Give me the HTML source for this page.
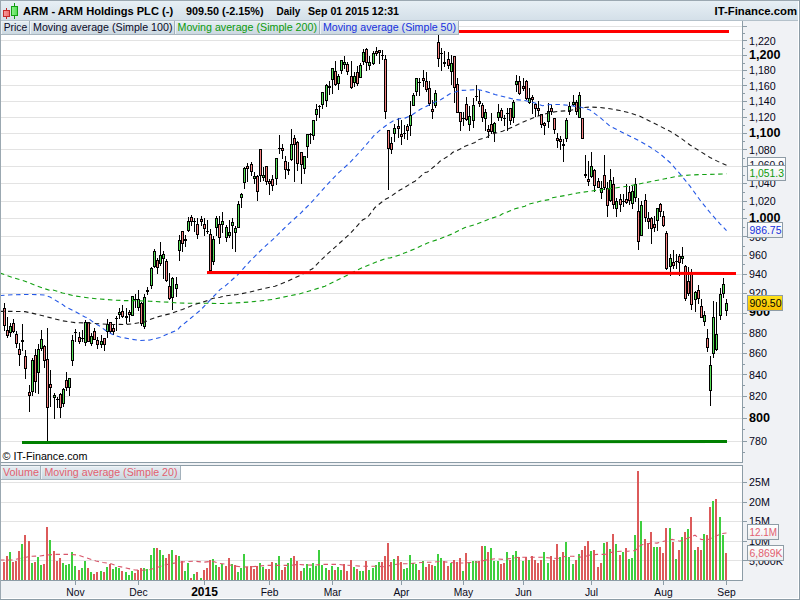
<!DOCTYPE html>
<html><head><meta charset="utf-8"><title>ARM - ARM Holdings PLC</title>
<style>
html,body{margin:0;padding:0;background:#f0f2f5;}
body{width:800px;height:600px;overflow:hidden;position:relative;font-family:"Liberation Sans", sans-serif;}
svg{position:absolute;left:0;top:0;display:block;}
text{font-family:"Liberation Sans", sans-serif;font-size:11px;}
.b{font-weight:bold;}
</style></head><body>
<svg width="800" height="600" viewBox="0 0 800 600">
<defs>
<linearGradient id="hd" x1="0" y1="0" x2="0" y2="1"><stop offset="0" stop-color="#e8f0f5"/><stop offset="1" stop-color="#d3dfe8"/></linearGradient>
<linearGradient id="tb" x1="0" y1="0" x2="0" y2="1"><stop offset="0" stop-color="#e6eef3"/><stop offset="1" stop-color="#c9d6df"/></linearGradient>
<linearGradient id="yl" x1="0" y1="0" x2="0" y2="1"><stop offset="0" stop-color="#ffe31a"/><stop offset="1" stop-color="#f6bd00"/></linearGradient>
<linearGradient id="wb" x1="0" y1="0" x2="0" y2="1"><stop offset="0" stop-color="#ffffff"/><stop offset="1" stop-color="#eceef0"/></linearGradient>
<linearGradient id="rc" x1="0" y1="0" x2="1" y2="0"><stop offset="0" stop-color="#f79a9a"/><stop offset="1" stop-color="#ee7070"/></linearGradient>
<linearGradient id="gc" x1="0" y1="0" x2="1" y2="0"><stop offset="0" stop-color="#8df08d"/><stop offset="1" stop-color="#55dd55"/></linearGradient>
<clipPath id="cp"><rect x="1" y="21" width="741" height="441"/></clipPath>
<clipPath id="cv"><rect x="1" y="466" width="741" height="114"/></clipPath>
</defs>

<rect x="0" y="0" width="800" height="600" fill="#f0f2f5"/>
<rect x="0" y="0" width="800" height="21" fill="url(#hd)"/>
<rect x="0" y="20" width="800" height="1" fill="#b4c1ca"/>
<rect x="1" y="21" width="741" height="441" fill="#fff"/>
<rect x="1" y="466" width="741" height="114" fill="#fff"/>
<g fill="#e3e3e3">
<rect x="1" y="441" width="741" height="1"/>
<rect x="1" y="418" width="741" height="1"/>
<rect x="1" y="396" width="741" height="1"/>
<rect x="1" y="374" width="741" height="1"/>
<rect x="1" y="353" width="741" height="1"/>
<rect x="1" y="333" width="741" height="1"/>
<rect x="1" y="313" width="741" height="1"/>
<rect x="1" y="293" width="741" height="1"/>
<rect x="1" y="274" width="741" height="1"/>
<rect x="1" y="255" width="741" height="1"/>
<rect x="1" y="236" width="741" height="1"/>
<rect x="1" y="218" width="741" height="1"/>
<rect x="1" y="201" width="741" height="1"/>
<rect x="1" y="183" width="741" height="1"/>
<rect x="1" y="166" width="741" height="1"/>
<rect x="1" y="149" width="741" height="1"/>
<rect x="1" y="133" width="741" height="1"/>
<rect x="1" y="117" width="741" height="1"/>
<rect x="1" y="101" width="741" height="1"/>
<rect x="1" y="85" width="741" height="1"/>
<rect x="1" y="70" width="741" height="1"/>
<rect x="1" y="55" width="741" height="1"/>
<rect x="1" y="40" width="741" height="1"/>
<rect x="1" y="26" width="741" height="1"/>
<rect x="1" y="560" width="741" height="1"/>
<rect x="1" y="541" width="741" height="1"/>
<rect x="1" y="521" width="741" height="1"/>
<rect x="1" y="502" width="741" height="1"/>
<rect x="1" y="482" width="741" height="1"/>
</g>
<g clip-path="url(#cp)" shape-rendering="crispEdges">
<g fill="#000"><rect x="4" y="303" width="1" height="28"/><rect x="7" y="317" width="1" height="21"/><rect x="10" y="323" width="1" height="14"/><rect x="13" y="319" width="1" height="14"/><rect x="16" y="331" width="1" height="17"/><rect x="19" y="343" width="1" height="23"/><rect x="22" y="324" width="1" height="27"/><rect x="25" y="350" width="1" height="29"/><rect x="29" y="385" width="1" height="27"/><rect x="32" y="358" width="1" height="38"/><rect x="35" y="349" width="1" height="44"/><rect x="38" y="344" width="1" height="50"/><rect x="41" y="330" width="1" height="21"/><rect x="44" y="345" width="1" height="23"/><rect x="47" y="328" width="1" height="114"/><rect x="50" y="370" width="1" height="37"/><rect x="54" y="393" width="1" height="26"/><rect x="57" y="397" width="1" height="11"/><rect x="60" y="393" width="1" height="25"/><rect x="63" y="388" width="1" height="19"/><rect x="66" y="372" width="1" height="19"/><rect x="69" y="378" width="1" height="18"/><rect x="72" y="335" width="1" height="31"/><rect x="75" y="329" width="1" height="13"/><rect x="79" y="332" width="1" height="12"/><rect x="82" y="330" width="1" height="12"/><rect x="85" y="320" width="1" height="26"/><rect x="88" y="322" width="1" height="20"/><rect x="91" y="333" width="1" height="13"/><rect x="94" y="328" width="1" height="12"/><rect x="97" y="337" width="1" height="12"/><rect x="101" y="335" width="1" height="13"/><rect x="104" y="338" width="1" height="13"/><rect x="107" y="319" width="1" height="19"/><rect x="110" y="322" width="1" height="12"/><rect x="113" y="324" width="1" height="11"/><rect x="116" y="316" width="1" height="15"/><rect x="119" y="308" width="1" height="11"/><rect x="122" y="305" width="1" height="13"/><rect x="126" y="308" width="1" height="16"/><rect x="129" y="310" width="1" height="12"/><rect x="132" y="296" width="1" height="20"/><rect x="135" y="294" width="1" height="14"/><rect x="138" y="290" width="1" height="21"/><rect x="141" y="302" width="1" height="24"/><rect x="144" y="294" width="1" height="35"/><rect x="147" y="287" width="1" height="8"/><rect x="151" y="267" width="1" height="22"/><rect x="154" y="249" width="1" height="19"/><rect x="157" y="258" width="1" height="16"/><rect x="160" y="242" width="1" height="24"/><rect x="163" y="251" width="1" height="28"/><rect x="166" y="259" width="1" height="23"/><rect x="169" y="273" width="1" height="27"/><rect x="172" y="277" width="1" height="33"/><rect x="176" y="277" width="1" height="20"/><rect x="179" y="235" width="1" height="26"/><rect x="182" y="231" width="1" height="21"/><rect x="185" y="235" width="1" height="12"/><rect x="188" y="217" width="1" height="15"/><rect x="191" y="215" width="1" height="11"/><rect x="194" y="218" width="1" height="14"/><rect x="197" y="218" width="1" height="21"/><rect x="201" y="216" width="1" height="10"/><rect x="204" y="218" width="1" height="18"/><rect x="207" y="220" width="1" height="14"/><rect x="210" y="229" width="1" height="45"/><rect x="213" y="236" width="1" height="29"/><rect x="216" y="216" width="1" height="20"/><rect x="219" y="216" width="1" height="28"/><rect x="222" y="212" width="1" height="21"/><rect x="226" y="225" width="1" height="17"/><rect x="229" y="220" width="1" height="18"/><rect x="232" y="218" width="1" height="31"/><rect x="235" y="226" width="1" height="26"/><rect x="238" y="201" width="1" height="27"/><rect x="241" y="193" width="1" height="15"/><rect x="244" y="167" width="1" height="22"/><rect x="247" y="163" width="1" height="19"/><rect x="251" y="162" width="1" height="14"/><rect x="254" y="172" width="1" height="12"/><rect x="257" y="175" width="1" height="26"/><rect x="260" y="149" width="1" height="33"/><rect x="263" y="167" width="1" height="14"/><rect x="266" y="166" width="1" height="19"/><rect x="269" y="179" width="1" height="16"/><rect x="272" y="175" width="1" height="16"/><rect x="276" y="158" width="1" height="27"/><rect x="279" y="135" width="1" height="19"/><rect x="282" y="144" width="1" height="15"/><rect x="285" y="156" width="1" height="23"/><rect x="288" y="162" width="1" height="13"/><rect x="291" y="129" width="1" height="32"/><rect x="294" y="135" width="1" height="47"/><rect x="297" y="141" width="1" height="30"/><rect x="301" y="152" width="1" height="32"/><rect x="304" y="156" width="1" height="18"/><rect x="307" y="134" width="1" height="24"/><rect x="310" y="133" width="1" height="11"/><rect x="313" y="120" width="1" height="20"/><rect x="316" y="104" width="1" height="17"/><rect x="319" y="105" width="1" height="13"/><rect x="322" y="92" width="1" height="17"/><rect x="326" y="84" width="1" height="23"/><rect x="329" y="81" width="1" height="14"/><rect x="332" y="68" width="1" height="26"/><rect x="335" y="61" width="1" height="25"/><rect x="338" y="74" width="1" height="16"/><rect x="341" y="60" width="1" height="14"/><rect x="344" y="56" width="1" height="13"/><rect x="347" y="62" width="1" height="13"/><rect x="351" y="61" width="1" height="28"/><rect x="354" y="72" width="1" height="15"/><rect x="357" y="66" width="1" height="20"/><rect x="360" y="63" width="1" height="15"/><rect x="363" y="49" width="1" height="16"/><rect x="366" y="48" width="1" height="23"/><rect x="369" y="56" width="1" height="14"/><rect x="373" y="51" width="1" height="14"/><rect x="376" y="47" width="1" height="9"/><rect x="379" y="50" width="1" height="14"/><rect x="382" y="50" width="1" height="10"/><rect x="385" y="55" width="1" height="64"/><rect x="388" y="130" width="1" height="60"/><rect x="391" y="137" width="1" height="17"/><rect x="394" y="124" width="1" height="18"/><rect x="398" y="118" width="1" height="20"/><rect x="401" y="120" width="1" height="25"/><rect x="404" y="125" width="1" height="14"/><rect x="407" y="124" width="1" height="16"/><rect x="410" y="101" width="1" height="35"/><rect x="413" y="93" width="1" height="13"/><rect x="416" y="78" width="1" height="18"/><rect x="419" y="78" width="1" height="18"/><rect x="423" y="70" width="1" height="17"/><rect x="426" y="72" width="1" height="20"/><rect x="429" y="81" width="1" height="25"/><rect x="432" y="100" width="1" height="19"/><rect x="435" y="90" width="1" height="18"/><rect x="438" y="35" width="1" height="32"/><rect x="441" y="48" width="1" height="23"/><rect x="444" y="51" width="1" height="16"/><rect x="448" y="52" width="1" height="17"/><rect x="451" y="55" width="1" height="30"/><rect x="454" y="56" width="1" height="47"/><rect x="457" y="78" width="1" height="35"/><rect x="460" y="112" width="1" height="19"/><rect x="463" y="112" width="1" height="14"/><rect x="466" y="97" width="1" height="24"/><rect x="469" y="106" width="1" height="25"/><rect x="473" y="98" width="1" height="30"/><rect x="476" y="85" width="1" height="16"/><rect x="479" y="90" width="1" height="17"/><rect x="482" y="103" width="1" height="19"/><rect x="485" y="109" width="1" height="22"/><rect x="488" y="125" width="1" height="13"/><rect x="491" y="113" width="1" height="21"/><rect x="494" y="122" width="1" height="20"/><rect x="498" y="104" width="1" height="17"/><rect x="501" y="108" width="1" height="13"/><rect x="504" y="115" width="1" height="11"/><rect x="507" y="108" width="1" height="23"/><rect x="510" y="108" width="1" height="17"/><rect x="513" y="100" width="1" height="23"/><rect x="516" y="75" width="1" height="17"/><rect x="519" y="76" width="1" height="19"/><rect x="523" y="78" width="1" height="13"/><rect x="526" y="80" width="1" height="20"/><rect x="529" y="88" width="1" height="16"/><rect x="532" y="95" width="1" height="19"/><rect x="535" y="103" width="1" height="14"/><rect x="538" y="101" width="1" height="15"/><rect x="541" y="114" width="1" height="14"/><rect x="544" y="122" width="1" height="13"/><rect x="548" y="103" width="1" height="25"/><rect x="551" y="105" width="1" height="10"/><rect x="554" y="118" width="1" height="16"/><rect x="557" y="133" width="1" height="15"/><rect x="560" y="136" width="1" height="14"/><rect x="563" y="139" width="1" height="23"/><rect x="566" y="118" width="1" height="24"/><rect x="569" y="102" width="1" height="13"/><rect x="573" y="95" width="1" height="11"/><rect x="576" y="100" width="1" height="15"/><rect x="579" y="92" width="1" height="26"/><rect x="582" y="118" width="1" height="21"/><rect x="585" y="155" width="1" height="23"/><rect x="588" y="161" width="1" height="25"/><rect x="591" y="152" width="1" height="26"/><rect x="594" y="169" width="1" height="23"/><rect x="598" y="178" width="1" height="10"/><rect x="601" y="181" width="1" height="18"/><rect x="604" y="155" width="1" height="35"/><rect x="607" y="182" width="1" height="35"/><rect x="610" y="169" width="1" height="33"/><rect x="613" y="177" width="1" height="32"/><rect x="616" y="198" width="1" height="19"/><rect x="620" y="194" width="1" height="18"/><rect x="623" y="194" width="1" height="13"/><rect x="626" y="184" width="1" height="20"/><rect x="629" y="186" width="1" height="19"/><rect x="632" y="186" width="1" height="23"/><rect x="635" y="178" width="1" height="24"/><rect x="638" y="198" width="1" height="52"/><rect x="641" y="201" width="1" height="35"/><rect x="645" y="194" width="1" height="28"/><rect x="648" y="212" width="1" height="17"/><rect x="651" y="217" width="1" height="27"/><rect x="654" y="216" width="1" height="16"/><rect x="657" y="208" width="1" height="23"/><rect x="660" y="203" width="1" height="14"/><rect x="663" y="211" width="1" height="16"/><rect x="666" y="231" width="1" height="39"/><rect x="670" y="254" width="1" height="22"/><rect x="673" y="250" width="1" height="19"/><rect x="676" y="254" width="1" height="15"/><rect x="679" y="254" width="1" height="22"/><rect x="682" y="247" width="1" height="17"/><rect x="685" y="265" width="1" height="36"/><rect x="688" y="267" width="1" height="29"/><rect x="691" y="269" width="1" height="41"/><rect x="695" y="291" width="1" height="21"/><rect x="698" y="285" width="1" height="19"/><rect x="701" y="299" width="1" height="19"/><rect x="704" y="311" width="1" height="15"/><rect x="707" y="329" width="1" height="23"/><rect x="710" y="356" width="1" height="50"/><rect x="713" y="301" width="1" height="57"/><rect x="716" y="302" width="1" height="49"/><rect x="720" y="288" width="1" height="32"/><rect x="723" y="278" width="1" height="20"/><rect x="726" y="299" width="1" height="17"/></g>
<rect x="3" y="308" width="3" height="18" fill="#000"/><rect x="4" y="309" width="1" height="16" fill="#f58080"/><rect x="6" y="330" width="3" height="6" fill="#000"/><rect x="7" y="331" width="1" height="4" fill="#f58080"/><rect x="9" y="326" width="3" height="7" fill="#000"/><rect x="10" y="327" width="1" height="5" fill="#58e058"/><rect x="12" y="323" width="3" height="9" fill="#000"/><rect x="13" y="324" width="1" height="7" fill="#f58080"/><rect x="15" y="334" width="3" height="10" fill="#000"/><rect x="16" y="335" width="1" height="8" fill="#f58080"/><rect x="18" y="349" width="3" height="6" fill="#000"/><rect x="19" y="350" width="1" height="4" fill="#f58080"/><rect x="21" y="340" width="3" height="2" fill="#000"/><rect x="24" y="356" width="3" height="13" fill="#000"/><rect x="25" y="357" width="1" height="11" fill="#f58080"/><rect x="28" y="392" width="3" height="4" fill="#000"/><rect x="29" y="393" width="1" height="2" fill="#f58080"/><rect x="31" y="360" width="3" height="32" fill="#000"/><rect x="32" y="361" width="1" height="30" fill="#58e058"/><rect x="34" y="355" width="3" height="27" fill="#000"/><rect x="35" y="356" width="1" height="25" fill="#f58080"/><rect x="37" y="349" width="3" height="24" fill="#000"/><rect x="38" y="350" width="1" height="22" fill="#58e058"/><rect x="40" y="339" width="3" height="10" fill="#000"/><rect x="41" y="340" width="1" height="8" fill="#58e058"/><rect x="43" y="346" width="3" height="15" fill="#000"/><rect x="44" y="347" width="1" height="13" fill="#f58080"/><rect x="46" y="359" width="3" height="49" fill="#000"/><rect x="47" y="360" width="1" height="47" fill="#f58080"/><rect x="49" y="384" width="3" height="4" fill="#000"/><rect x="50" y="385" width="1" height="2" fill="#f58080"/><rect x="53" y="395" width="3" height="3" fill="#000"/><rect x="54" y="396" width="1" height="1" fill="#58e058"/><rect x="56" y="399" width="3" height="1" fill="#000"/><rect x="59" y="394" width="3" height="14" fill="#000"/><rect x="60" y="395" width="1" height="12" fill="#f58080"/><rect x="62" y="389" width="3" height="15" fill="#000"/><rect x="63" y="390" width="1" height="13" fill="#58e058"/><rect x="65" y="380" width="3" height="8" fill="#000"/><rect x="66" y="381" width="1" height="6" fill="#f58080"/><rect x="68" y="378" width="3" height="10" fill="#000"/><rect x="69" y="379" width="1" height="8" fill="#58e058"/><rect x="71" y="340" width="3" height="21" fill="#000"/><rect x="72" y="341" width="1" height="19" fill="#58e058"/><rect x="74" y="332" width="3" height="1" fill="#000"/><rect x="78" y="337" width="3" height="5" fill="#000"/><rect x="79" y="338" width="1" height="3" fill="#f58080"/><rect x="81" y="338" width="3" height="1" fill="#000"/><rect x="84" y="322" width="3" height="21" fill="#000"/><rect x="85" y="323" width="1" height="19" fill="#58e058"/><rect x="87" y="322" width="3" height="20" fill="#000"/><rect x="88" y="323" width="1" height="18" fill="#f58080"/><rect x="90" y="336" width="3" height="8" fill="#000"/><rect x="91" y="337" width="1" height="6" fill="#58e058"/><rect x="93" y="331" width="3" height="9" fill="#000"/><rect x="94" y="332" width="1" height="7" fill="#f58080"/><rect x="96" y="340" width="3" height="5" fill="#000"/><rect x="97" y="341" width="1" height="3" fill="#f58080"/><rect x="100" y="341" width="3" height="4" fill="#000"/><rect x="101" y="342" width="1" height="2" fill="#58e058"/><rect x="103" y="338" width="3" height="7" fill="#000"/><rect x="104" y="339" width="1" height="5" fill="#f58080"/><rect x="106" y="324" width="3" height="8" fill="#000"/><rect x="107" y="325" width="1" height="6" fill="#58e058"/><rect x="109" y="322" width="3" height="10" fill="#000"/><rect x="110" y="323" width="1" height="8" fill="#f58080"/><rect x="112" y="328" width="3" height="4" fill="#000"/><rect x="113" y="329" width="1" height="2" fill="#f58080"/><rect x="115" y="318" width="3" height="1" fill="#000"/><rect x="118" y="312" width="3" height="3" fill="#000"/><rect x="119" y="313" width="1" height="1" fill="#58e058"/><rect x="121" y="311" width="3" height="6" fill="#000"/><rect x="122" y="312" width="1" height="4" fill="#f58080"/><rect x="125" y="316" width="3" height="2" fill="#000"/><rect x="128" y="312" width="3" height="3" fill="#000"/><rect x="129" y="313" width="1" height="1" fill="#f58080"/><rect x="131" y="296" width="3" height="20" fill="#000"/><rect x="132" y="297" width="1" height="18" fill="#58e058"/><rect x="134" y="299" width="3" height="1" fill="#000"/><rect x="137" y="299" width="3" height="9" fill="#000"/><rect x="138" y="300" width="1" height="7" fill="#58e058"/><rect x="140" y="303" width="3" height="21" fill="#000"/><rect x="141" y="304" width="1" height="19" fill="#f58080"/><rect x="143" y="297" width="3" height="30" fill="#000"/><rect x="144" y="298" width="1" height="28" fill="#58e058"/><rect x="146" y="290" width="3" height="2" fill="#000"/><rect x="150" y="268" width="3" height="18" fill="#000"/><rect x="151" y="269" width="1" height="16" fill="#58e058"/><rect x="153" y="251" width="3" height="16" fill="#000"/><rect x="154" y="252" width="1" height="14" fill="#58e058"/><rect x="156" y="260" width="3" height="8" fill="#000"/><rect x="157" y="261" width="1" height="6" fill="#f58080"/><rect x="159" y="255" width="3" height="9" fill="#000"/><rect x="160" y="256" width="1" height="7" fill="#58e058"/><rect x="162" y="254" width="3" height="5" fill="#000"/><rect x="163" y="255" width="1" height="3" fill="#58e058"/><rect x="165" y="261" width="3" height="20" fill="#000"/><rect x="166" y="262" width="1" height="18" fill="#f58080"/><rect x="168" y="286" width="3" height="13" fill="#000"/><rect x="169" y="287" width="1" height="11" fill="#f58080"/><rect x="171" y="278" width="3" height="20" fill="#000"/><rect x="172" y="279" width="1" height="18" fill="#58e058"/><rect x="175" y="284" width="3" height="5" fill="#000"/><rect x="176" y="285" width="1" height="3" fill="#58e058"/><rect x="178" y="240" width="3" height="11" fill="#000"/><rect x="179" y="241" width="1" height="9" fill="#58e058"/><rect x="181" y="231" width="3" height="13" fill="#000"/><rect x="182" y="232" width="1" height="11" fill="#f58080"/><rect x="184" y="239" width="3" height="2" fill="#000"/><rect x="187" y="221" width="3" height="10" fill="#000"/><rect x="188" y="222" width="1" height="8" fill="#58e058"/><rect x="190" y="217" width="3" height="5" fill="#000"/><rect x="191" y="218" width="1" height="3" fill="#f58080"/><rect x="193" y="221" width="3" height="1" fill="#000"/><rect x="196" y="224" width="3" height="11" fill="#000"/><rect x="197" y="225" width="1" height="9" fill="#f58080"/><rect x="200" y="219" width="3" height="3" fill="#000"/><rect x="201" y="220" width="1" height="1" fill="#f58080"/><rect x="203" y="224" width="3" height="5" fill="#000"/><rect x="204" y="225" width="1" height="3" fill="#f58080"/><rect x="206" y="231" width="3" height="1" fill="#000"/><rect x="209" y="234" width="3" height="37" fill="#000"/><rect x="210" y="235" width="1" height="35" fill="#f58080"/><rect x="212" y="239" width="3" height="23" fill="#000"/><rect x="213" y="240" width="1" height="21" fill="#58e058"/><rect x="215" y="218" width="3" height="10" fill="#000"/><rect x="216" y="219" width="1" height="8" fill="#58e058"/><rect x="218" y="224" width="3" height="14" fill="#000"/><rect x="219" y="225" width="1" height="12" fill="#f58080"/><rect x="221" y="221" width="3" height="4" fill="#000"/><rect x="222" y="222" width="1" height="2" fill="#58e058"/><rect x="225" y="227" width="3" height="11" fill="#000"/><rect x="226" y="228" width="1" height="9" fill="#58e058"/><rect x="228" y="232" width="3" height="4" fill="#000"/><rect x="229" y="233" width="1" height="2" fill="#58e058"/><rect x="231" y="222" width="3" height="4" fill="#000"/><rect x="232" y="223" width="1" height="2" fill="#58e058"/><rect x="234" y="228" width="3" height="5" fill="#000"/><rect x="235" y="229" width="1" height="3" fill="#58e058"/><rect x="237" y="204" width="3" height="24" fill="#000"/><rect x="238" y="205" width="1" height="22" fill="#58e058"/><rect x="240" y="194" width="3" height="4" fill="#000"/><rect x="241" y="195" width="1" height="2" fill="#58e058"/><rect x="243" y="168" width="3" height="15" fill="#000"/><rect x="244" y="169" width="1" height="13" fill="#58e058"/><rect x="246" y="166" width="3" height="3" fill="#000"/><rect x="247" y="167" width="1" height="1" fill="#f58080"/><rect x="250" y="164" width="3" height="8" fill="#000"/><rect x="251" y="165" width="1" height="6" fill="#f58080"/><rect x="253" y="176" width="3" height="3" fill="#000"/><rect x="254" y="177" width="1" height="1" fill="#58e058"/><rect x="256" y="176" width="3" height="16" fill="#000"/><rect x="257" y="177" width="1" height="14" fill="#f58080"/><rect x="259" y="149" width="3" height="27" fill="#000"/><rect x="260" y="150" width="1" height="25" fill="#f58080"/><rect x="262" y="175" width="3" height="3" fill="#000"/><rect x="263" y="176" width="1" height="1" fill="#58e058"/><rect x="265" y="166" width="3" height="16" fill="#000"/><rect x="266" y="167" width="1" height="14" fill="#f58080"/><rect x="268" y="181" width="3" height="3" fill="#000"/><rect x="269" y="182" width="1" height="1" fill="#f58080"/><rect x="271" y="179" width="3" height="7" fill="#000"/><rect x="272" y="180" width="1" height="5" fill="#f58080"/><rect x="275" y="158" width="3" height="21" fill="#000"/><rect x="276" y="159" width="1" height="19" fill="#58e058"/><rect x="278" y="148" width="3" height="1" fill="#000"/><rect x="281" y="148" width="3" height="3" fill="#000"/><rect x="282" y="149" width="1" height="1" fill="#f58080"/><rect x="284" y="161" width="3" height="9" fill="#000"/><rect x="285" y="162" width="1" height="7" fill="#f58080"/><rect x="287" y="169" width="3" height="2" fill="#000"/><rect x="290" y="144" width="3" height="16" fill="#000"/><rect x="291" y="145" width="1" height="14" fill="#58e058"/><rect x="293" y="138" width="3" height="7" fill="#000"/><rect x="294" y="139" width="1" height="5" fill="#f58080"/><rect x="296" y="142" width="3" height="22" fill="#000"/><rect x="297" y="143" width="1" height="20" fill="#f58080"/><rect x="300" y="152" width="3" height="13" fill="#000"/><rect x="301" y="153" width="1" height="11" fill="#f58080"/><rect x="303" y="156" width="3" height="13" fill="#000"/><rect x="304" y="157" width="1" height="11" fill="#58e058"/><rect x="306" y="134" width="3" height="13" fill="#000"/><rect x="307" y="135" width="1" height="11" fill="#58e058"/><rect x="309" y="134" width="3" height="1" fill="#000"/><rect x="312" y="120" width="3" height="16" fill="#000"/><rect x="313" y="121" width="1" height="14" fill="#58e058"/><rect x="315" y="109" width="3" height="6" fill="#000"/><rect x="316" y="110" width="1" height="4" fill="#58e058"/><rect x="318" y="106" width="3" height="1" fill="#000"/><rect x="321" y="92" width="3" height="13" fill="#000"/><rect x="322" y="93" width="1" height="11" fill="#58e058"/><rect x="325" y="85" width="3" height="16" fill="#000"/><rect x="326" y="86" width="1" height="14" fill="#58e058"/><rect x="328" y="86" width="3" height="2" fill="#000"/><rect x="331" y="68" width="3" height="12" fill="#000"/><rect x="332" y="69" width="1" height="10" fill="#58e058"/><rect x="334" y="71" width="3" height="14" fill="#000"/><rect x="335" y="72" width="1" height="12" fill="#f58080"/><rect x="337" y="76" width="3" height="8" fill="#000"/><rect x="338" y="77" width="1" height="6" fill="#58e058"/><rect x="340" y="60" width="3" height="11" fill="#000"/><rect x="341" y="61" width="1" height="9" fill="#58e058"/><rect x="343" y="62" width="3" height="3" fill="#000"/><rect x="344" y="63" width="1" height="1" fill="#58e058"/><rect x="346" y="64" width="3" height="8" fill="#000"/><rect x="347" y="65" width="1" height="6" fill="#f58080"/><rect x="350" y="76" width="3" height="12" fill="#000"/><rect x="351" y="77" width="1" height="10" fill="#f58080"/><rect x="353" y="76" width="3" height="7" fill="#000"/><rect x="354" y="77" width="1" height="5" fill="#58e058"/><rect x="356" y="72" width="3" height="12" fill="#000"/><rect x="357" y="73" width="1" height="10" fill="#f58080"/><rect x="359" y="65" width="3" height="13" fill="#000"/><rect x="360" y="66" width="1" height="11" fill="#58e058"/><rect x="362" y="52" width="3" height="10" fill="#000"/><rect x="363" y="53" width="1" height="8" fill="#58e058"/><rect x="365" y="49" width="3" height="14" fill="#000"/><rect x="366" y="50" width="1" height="12" fill="#f58080"/><rect x="368" y="62" width="3" height="4" fill="#000"/><rect x="369" y="63" width="1" height="2" fill="#58e058"/><rect x="372" y="53" width="3" height="11" fill="#000"/><rect x="373" y="54" width="1" height="9" fill="#58e058"/><rect x="375" y="51" width="3" height="3" fill="#000"/><rect x="376" y="52" width="1" height="1" fill="#f58080"/><rect x="378" y="50" width="3" height="3" fill="#000"/><rect x="379" y="51" width="1" height="1" fill="#f58080"/><rect x="381" y="55" width="3" height="1" fill="#000"/><rect x="384" y="59" width="3" height="53" fill="#000"/><rect x="385" y="60" width="1" height="51" fill="#f58080"/><rect x="387" y="130" width="3" height="19" fill="#000"/><rect x="388" y="131" width="1" height="17" fill="#f58080"/><rect x="390" y="143" width="3" height="7" fill="#000"/><rect x="391" y="144" width="1" height="5" fill="#f58080"/><rect x="393" y="128" width="3" height="6" fill="#000"/><rect x="394" y="129" width="1" height="4" fill="#58e058"/><rect x="397" y="126" width="3" height="3" fill="#000"/><rect x="398" y="127" width="1" height="1" fill="#f58080"/><rect x="400" y="134" width="3" height="3" fill="#000"/><rect x="401" y="135" width="1" height="1" fill="#f58080"/><rect x="403" y="133" width="3" height="1" fill="#000"/><rect x="406" y="126" width="3" height="5" fill="#000"/><rect x="407" y="127" width="1" height="3" fill="#f58080"/><rect x="409" y="115" width="3" height="11" fill="#000"/><rect x="410" y="116" width="1" height="9" fill="#58e058"/><rect x="412" y="95" width="3" height="11" fill="#000"/><rect x="413" y="96" width="1" height="9" fill="#58e058"/><rect x="415" y="78" width="3" height="14" fill="#000"/><rect x="416" y="79" width="1" height="12" fill="#58e058"/><rect x="418" y="82" width="3" height="1" fill="#000"/><rect x="422" y="78" width="3" height="3" fill="#000"/><rect x="423" y="79" width="1" height="1" fill="#f58080"/><rect x="425" y="81" width="3" height="9" fill="#000"/><rect x="426" y="82" width="1" height="7" fill="#f58080"/><rect x="428" y="88" width="3" height="16" fill="#000"/><rect x="429" y="89" width="1" height="14" fill="#f58080"/><rect x="431" y="109" width="3" height="3" fill="#000"/><rect x="432" y="110" width="1" height="1" fill="#f58080"/><rect x="434" y="93" width="3" height="13" fill="#000"/><rect x="435" y="94" width="1" height="11" fill="#58e058"/><rect x="437" y="42" width="3" height="17" fill="#000"/><rect x="438" y="43" width="1" height="15" fill="#f58080"/><rect x="440" y="53" width="3" height="1" fill="#000"/><rect x="443" y="62" width="3" height="2" fill="#000"/><rect x="447" y="59" width="3" height="7" fill="#000"/><rect x="448" y="60" width="1" height="5" fill="#f58080"/><rect x="450" y="63" width="3" height="9" fill="#000"/><rect x="451" y="64" width="1" height="7" fill="#58e058"/><rect x="453" y="56" width="3" height="32" fill="#000"/><rect x="454" y="57" width="1" height="30" fill="#f58080"/><rect x="456" y="84" width="3" height="29" fill="#000"/><rect x="457" y="85" width="1" height="27" fill="#f58080"/><rect x="459" y="112" width="3" height="10" fill="#000"/><rect x="460" y="113" width="1" height="8" fill="#f58080"/><rect x="462" y="118" width="3" height="1" fill="#000"/><rect x="465" y="104" width="3" height="16" fill="#000"/><rect x="466" y="105" width="1" height="14" fill="#f58080"/><rect x="468" y="116" width="3" height="9" fill="#000"/><rect x="469" y="117" width="1" height="7" fill="#58e058"/><rect x="472" y="105" width="3" height="16" fill="#000"/><rect x="473" y="106" width="1" height="14" fill="#58e058"/><rect x="475" y="96" width="3" height="1" fill="#000"/><rect x="478" y="101" width="3" height="3" fill="#000"/><rect x="479" y="102" width="1" height="1" fill="#f58080"/><rect x="481" y="105" width="3" height="13" fill="#000"/><rect x="482" y="106" width="1" height="11" fill="#f58080"/><rect x="484" y="112" width="3" height="7" fill="#000"/><rect x="485" y="113" width="1" height="5" fill="#58e058"/><rect x="487" y="129" width="3" height="3" fill="#000"/><rect x="488" y="130" width="1" height="1" fill="#f58080"/><rect x="490" y="124" width="3" height="8" fill="#000"/><rect x="491" y="125" width="1" height="6" fill="#f58080"/><rect x="493" y="123" width="3" height="10" fill="#000"/><rect x="494" y="124" width="1" height="8" fill="#58e058"/><rect x="497" y="112" width="3" height="6" fill="#000"/><rect x="498" y="113" width="1" height="4" fill="#58e058"/><rect x="500" y="110" width="3" height="8" fill="#000"/><rect x="501" y="111" width="1" height="6" fill="#f58080"/><rect x="503" y="118" width="3" height="1" fill="#000"/><rect x="506" y="113" width="3" height="1" fill="#000"/><rect x="509" y="108" width="3" height="13" fill="#000"/><rect x="510" y="109" width="1" height="11" fill="#f58080"/><rect x="512" y="102" width="3" height="16" fill="#000"/><rect x="513" y="103" width="1" height="14" fill="#58e058"/><rect x="515" y="81" width="3" height="4" fill="#000"/><rect x="516" y="82" width="1" height="2" fill="#58e058"/><rect x="518" y="81" width="3" height="13" fill="#000"/><rect x="519" y="82" width="1" height="11" fill="#f58080"/><rect x="522" y="86" width="3" height="3" fill="#000"/><rect x="523" y="87" width="1" height="1" fill="#f58080"/><rect x="525" y="81" width="3" height="18" fill="#000"/><rect x="526" y="82" width="1" height="16" fill="#f58080"/><rect x="528" y="98" width="3" height="5" fill="#000"/><rect x="529" y="99" width="1" height="3" fill="#58e058"/><rect x="531" y="97" width="3" height="3" fill="#000"/><rect x="532" y="98" width="1" height="1" fill="#f58080"/><rect x="534" y="104" width="3" height="5" fill="#000"/><rect x="535" y="105" width="1" height="3" fill="#f58080"/><rect x="537" y="108" width="3" height="3" fill="#000"/><rect x="538" y="109" width="1" height="1" fill="#f58080"/><rect x="540" y="114" width="3" height="11" fill="#000"/><rect x="541" y="115" width="1" height="9" fill="#f58080"/><rect x="543" y="123" width="3" height="3" fill="#000"/><rect x="544" y="124" width="1" height="1" fill="#f58080"/><rect x="547" y="111" width="3" height="11" fill="#000"/><rect x="548" y="112" width="1" height="9" fill="#58e058"/><rect x="550" y="108" width="3" height="4" fill="#000"/><rect x="551" y="109" width="1" height="2" fill="#f58080"/><rect x="553" y="118" width="3" height="12" fill="#000"/><rect x="554" y="119" width="1" height="10" fill="#f58080"/><rect x="556" y="138" width="3" height="3" fill="#000"/><rect x="557" y="139" width="1" height="1" fill="#f58080"/><rect x="559" y="139" width="3" height="3" fill="#000"/><rect x="560" y="140" width="1" height="1" fill="#f58080"/><rect x="562" y="144" width="3" height="2" fill="#000"/><rect x="565" y="120" width="3" height="19" fill="#000"/><rect x="566" y="121" width="1" height="17" fill="#58e058"/><rect x="568" y="106" width="3" height="6" fill="#000"/><rect x="569" y="107" width="1" height="4" fill="#58e058"/><rect x="572" y="102" width="3" height="3" fill="#000"/><rect x="573" y="103" width="1" height="1" fill="#58e058"/><rect x="575" y="102" width="3" height="10" fill="#000"/><rect x="576" y="103" width="1" height="8" fill="#f58080"/><rect x="578" y="95" width="3" height="23" fill="#000"/><rect x="579" y="96" width="1" height="21" fill="#58e058"/><rect x="581" y="118" width="3" height="21" fill="#000"/><rect x="582" y="119" width="1" height="19" fill="#f58080"/><rect x="584" y="174" width="3" height="2" fill="#000"/><rect x="587" y="179" width="3" height="3" fill="#000"/><rect x="588" y="180" width="1" height="1" fill="#f58080"/><rect x="590" y="166" width="3" height="11" fill="#000"/><rect x="591" y="167" width="1" height="9" fill="#58e058"/><rect x="593" y="170" width="3" height="16" fill="#000"/><rect x="594" y="171" width="1" height="14" fill="#f58080"/><rect x="597" y="181" width="3" height="7" fill="#000"/><rect x="598" y="182" width="1" height="5" fill="#f58080"/><rect x="600" y="188" width="3" height="5" fill="#000"/><rect x="601" y="189" width="1" height="3" fill="#58e058"/><rect x="603" y="175" width="3" height="13" fill="#000"/><rect x="604" y="176" width="1" height="11" fill="#f58080"/><rect x="606" y="188" width="3" height="18" fill="#000"/><rect x="607" y="189" width="1" height="16" fill="#f58080"/><rect x="609" y="180" width="3" height="21" fill="#000"/><rect x="610" y="181" width="1" height="19" fill="#58e058"/><rect x="612" y="184" width="3" height="21" fill="#000"/><rect x="613" y="185" width="1" height="19" fill="#f58080"/><rect x="615" y="201" width="3" height="8" fill="#000"/><rect x="616" y="202" width="1" height="6" fill="#58e058"/><rect x="619" y="199" width="3" height="6" fill="#000"/><rect x="620" y="200" width="1" height="4" fill="#f58080"/><rect x="622" y="201" width="3" height="1" fill="#000"/><rect x="625" y="199" width="3" height="4" fill="#000"/><rect x="626" y="200" width="1" height="2" fill="#f58080"/><rect x="628" y="192" width="3" height="9" fill="#000"/><rect x="629" y="193" width="1" height="7" fill="#f58080"/><rect x="631" y="191" width="3" height="13" fill="#000"/><rect x="632" y="192" width="1" height="11" fill="#58e058"/><rect x="634" y="184" width="3" height="14" fill="#000"/><rect x="635" y="185" width="1" height="12" fill="#58e058"/><rect x="637" y="211" width="3" height="31" fill="#000"/><rect x="638" y="212" width="1" height="29" fill="#f58080"/><rect x="640" y="205" width="3" height="31" fill="#000"/><rect x="641" y="206" width="1" height="29" fill="#58e058"/><rect x="644" y="200" width="3" height="18" fill="#000"/><rect x="645" y="201" width="1" height="16" fill="#f58080"/><rect x="647" y="218" width="3" height="4" fill="#000"/><rect x="648" y="219" width="1" height="2" fill="#f58080"/><rect x="650" y="218" width="3" height="11" fill="#000"/><rect x="651" y="219" width="1" height="9" fill="#f58080"/><rect x="653" y="224" width="3" height="4" fill="#000"/><rect x="654" y="225" width="1" height="2" fill="#f58080"/><rect x="656" y="208" width="3" height="13" fill="#000"/><rect x="657" y="209" width="1" height="11" fill="#58e058"/><rect x="659" y="204" width="3" height="8" fill="#000"/><rect x="660" y="205" width="1" height="6" fill="#f58080"/><rect x="662" y="216" width="3" height="10" fill="#000"/><rect x="663" y="217" width="1" height="8" fill="#f58080"/><rect x="665" y="233" width="3" height="36" fill="#000"/><rect x="666" y="234" width="1" height="34" fill="#f58080"/><rect x="669" y="258" width="3" height="9" fill="#000"/><rect x="670" y="259" width="1" height="7" fill="#58e058"/><rect x="672" y="262" width="3" height="4" fill="#000"/><rect x="673" y="263" width="1" height="2" fill="#f58080"/><rect x="675" y="261" width="3" height="1" fill="#000"/><rect x="678" y="256" width="3" height="7" fill="#000"/><rect x="679" y="257" width="1" height="5" fill="#f58080"/><rect x="681" y="256" width="3" height="3" fill="#000"/><rect x="682" y="257" width="1" height="1" fill="#58e058"/><rect x="684" y="266" width="3" height="33" fill="#000"/><rect x="685" y="267" width="1" height="31" fill="#f58080"/><rect x="687" y="281" width="3" height="13" fill="#000"/><rect x="688" y="282" width="1" height="11" fill="#f58080"/><rect x="690" y="272" width="3" height="33" fill="#000"/><rect x="691" y="273" width="1" height="31" fill="#f58080"/><rect x="694" y="292" width="3" height="8" fill="#000"/><rect x="695" y="293" width="1" height="6" fill="#58e058"/><rect x="697" y="290" width="3" height="9" fill="#000"/><rect x="698" y="291" width="1" height="7" fill="#f58080"/><rect x="700" y="306" width="3" height="12" fill="#000"/><rect x="701" y="307" width="1" height="10" fill="#f58080"/><rect x="703" y="315" width="3" height="7" fill="#000"/><rect x="704" y="316" width="1" height="5" fill="#58e058"/><rect x="706" y="338" width="3" height="10" fill="#000"/><rect x="707" y="339" width="1" height="8" fill="#f58080"/><rect x="709" y="365" width="3" height="26" fill="#000"/><rect x="710" y="366" width="1" height="24" fill="#58e058"/><rect x="712" y="317" width="3" height="37" fill="#000"/><rect x="713" y="318" width="1" height="35" fill="#58e058"/><rect x="715" y="334" width="3" height="16" fill="#000"/><rect x="716" y="335" width="1" height="14" fill="#58e058"/><rect x="719" y="294" width="3" height="22" fill="#000"/><rect x="720" y="295" width="1" height="20" fill="#58e058"/><rect x="722" y="284" width="3" height="10" fill="#000"/><rect x="723" y="285" width="1" height="8" fill="#58e058"/><rect x="725" y="303" width="3" height="8" fill="#000"/><rect x="726" y="304" width="1" height="6" fill="#58e058"/>
</g>
<g clip-path="url(#cp)" fill="none" stroke-width="1.1" stroke-dasharray="4.5 3.5">
<path d="M0.0,273.0 L12.5,277.5 L25.0,281.2 L37.5,286.2 L50.0,290.5 L53.0,290.0 L62.5,293.0 L75.0,296.0 L87.5,297.8 L96.0,298.8 L100.0,299.0 L112.5,300.0 L123.8,300.6 L125.0,300.5 L137.5,300.8 L150.0,301.2 L162.5,302.0 L170.0,302.2 L175.0,302.8 L187.5,303.2 L200.0,303.2 L220.0,303.5 L225.0,303.5 L250.0,302.0 L272.5,299.5 L287.5,296.2 L300.0,293.8 L312.5,290.0 L325.0,286.2 L337.5,280.0 L350.0,273.8 L362.5,267.5 L375.0,262.5 L387.5,258.0 L390.0,258.0 L400.0,255.0 L402.5,253.8 L415.0,248.8 L427.5,243.0 L440.0,238.8 L452.5,233.8 L465.0,227.5 L477.5,223.8 L490.0,218.8 L500.0,215.5 L502.5,213.8 L512.5,210.0 L515.0,208.8 L525.0,206.2 L527.5,204.5 L537.5,202.0 L540.0,201.2 L550.0,199.5 L552.5,197.8 L565.0,195.5 L577.5,193.0 L590.0,191.2 L602.5,189.5 L615.0,188.0 L627.5,186.2 L640.0,183.8 L652.5,181.2 L665.0,178.8 L677.5,176.2 L690.0,175.0 L702.5,174.5 L715.0,174.3 L726.5,173.8" stroke="#12a012"/>
<path d="M0.0,311.4 L12.5,311.4 L25.0,311.6 L37.5,314.4 L50.0,317.6 L62.5,320.8 L75.0,322.6 L87.5,323.0 L100.0,323.8 L112.5,324.5 L120.0,324.4 L125.0,324.5 L132.5,323.8 L137.5,323.0 L145.0,321.9 L150.0,319.5 L157.5,316.9 L162.5,315.5 L170.0,313.8 L175.0,312.0 L182.5,309.4 L187.5,307.5 L195.0,304.4 L200.0,303.0 L207.5,300.6 L212.5,298.5 L220.0,297.2 L225.0,295.8 L237.5,294.5 L250.0,292.0 L262.5,288.8 L275.0,286.2 L287.5,281.2 L300.0,275.5 L312.5,268.8 L325.0,256.2 L337.5,245.0 L350.0,233.8 L362.5,220.0 L367.5,217.5 L375.0,207.5 L385.0,199.5 L390.0,197.0 L400.0,190.0 L402.5,188.8 L412.5,182.5 L415.0,181.2 L425.0,172.5 L427.5,172.0 L437.5,163.8 L440.0,161.2 L450.0,155.0 L452.5,152.5 L462.5,148.0 L465.0,146.2 L475.0,142.5 L477.5,140.0 L487.5,137.0 L490.0,134.5 L500.0,132.0 L502.5,131.2 L512.5,127.0 L525.0,121.2 L537.5,116.2 L550.0,112.5 L560.0,111.2 L570.0,110.5 L580.0,108.0 L590.0,107.0 L600.0,107.5 L610.0,108.8 L620.0,110.5 L630.0,113.0 L640.0,116.2 L650.0,121.2 L660.0,126.2 L670.0,131.2 L680.0,137.5 L690.0,145.0 L700.0,151.2 L710.0,157.5 L720.0,162.5 L726.5,165.2" stroke="#1a1a1a"/>
<path d="M0.0,295.5 L12.5,294.8 L25.0,294.5 L37.5,294.6 L44.0,295.0 L50.0,297.0 L57.5,301.5 L62.5,304.4 L65.0,306.5 L75.0,311.5 L85.0,317.0 L87.5,317.8 L95.0,323.5 L100.0,326.3 L105.0,330.0 L112.5,334.5 L120.0,337.0 L130.0,339.0 L140.0,340.5 L150.0,340.0 L160.0,337.5 L170.0,333.0 L177.5,330.0 L180.0,327.0 L190.0,318.8 L200.0,310.5 L202.5,308.0 L212.5,297.5 L215.0,295.0 L220.0,289.6 L225.0,286.2 L237.5,275.0 L250.0,261.2 L262.5,248.8 L275.0,237.5 L287.5,225.0 L300.0,213.8 L312.5,201.2 L325.0,187.0 L337.5,173.8 L350.0,162.5 L362.5,149.0 L369.0,141.5 L375.0,134.4 L381.0,129.4 L387.5,124.4 L393.0,121.0 L399.0,118.8 L405.0,118.1 L411.0,115.6 L420.0,109.5 L425.0,106.9 L434.0,102.5 L441.0,99.5 L450.0,93.8 L460.0,90.5 L470.0,90.0 L477.5,89.5 L485.0,91.2 L495.0,94.5 L505.0,97.0 L515.0,99.5 L525.0,100.5 L535.0,103.0 L542.5,105.8 L550.0,104.5 L560.0,104.5 L570.0,105.5 L580.0,107.0 L590.0,110.0 L600.0,117.5 L610.0,126.2 L620.0,131.2 L630.0,136.2 L640.0,141.2 L650.0,147.0 L660.0,153.8 L670.0,162.5 L680.0,173.8 L690.0,186.2 L700.0,200.0 L710.0,212.5 L720.0,223.8 L726.5,230.6" stroke="#2458e6"/>
</g>
<rect x="459" y="30" width="270" height="3" fill="#ff0000"/>
<line x1="207" y1="272.5" x2="736" y2="273.5" stroke="#ff0000" stroke-width="3"/>
<line x1="22" y1="442.5" x2="727" y2="441.5" stroke="#008000" stroke-width="3"/>
<g clip-path="url(#cv)" shape-rendering="crispEdges">
<rect x="3" y="562" width="2" height="18" fill="#dc5a5a"/>
<rect x="6" y="556" width="2" height="24" fill="#dc5a5a"/>
<rect x="9" y="552" width="2" height="28" fill="#3ecf3e"/>
<rect x="12" y="562" width="2" height="18" fill="#dc5a5a"/>
<rect x="15" y="561" width="2" height="19" fill="#dc5a5a"/>
<rect x="18" y="551" width="2" height="29" fill="#dc5a5a"/>
<rect x="21" y="544" width="2" height="36" fill="#3ecf3e"/>
<rect x="24" y="535" width="2" height="45" fill="#dc5a5a"/>
<rect x="28" y="541" width="2" height="39" fill="#dc5a5a"/>
<rect x="31" y="563" width="2" height="17" fill="#3ecf3e"/>
<rect x="34" y="562" width="2" height="18" fill="#dc5a5a"/>
<rect x="37" y="557" width="2" height="23" fill="#3ecf3e"/>
<rect x="40" y="565" width="2" height="15" fill="#3ecf3e"/>
<rect x="43" y="564" width="2" height="16" fill="#dc5a5a"/>
<rect x="46" y="527" width="2" height="53" fill="#dc5a5a"/>
<rect x="49" y="540" width="2" height="40" fill="#3ecf3e"/>
<rect x="53" y="551" width="2" height="29" fill="#dc5a5a"/>
<rect x="56" y="561" width="2" height="19" fill="#dc5a5a"/>
<rect x="59" y="558" width="2" height="22" fill="#dc5a5a"/>
<rect x="62" y="563" width="2" height="17" fill="#3ecf3e"/>
<rect x="65" y="565" width="2" height="15" fill="#3ecf3e"/>
<rect x="68" y="564" width="2" height="16" fill="#3ecf3e"/>
<rect x="71" y="552" width="2" height="28" fill="#3ecf3e"/>
<rect x="74" y="566" width="2" height="14" fill="#3ecf3e"/>
<rect x="78" y="570" width="2" height="10" fill="#dc5a5a"/>
<rect x="81" y="568" width="2" height="12" fill="#3ecf3e"/>
<rect x="84" y="561" width="2" height="19" fill="#3ecf3e"/>
<rect x="87" y="568" width="2" height="12" fill="#dc5a5a"/>
<rect x="90" y="572" width="2" height="8" fill="#3ecf3e"/>
<rect x="93" y="574" width="2" height="6" fill="#dc5a5a"/>
<rect x="96" y="572" width="2" height="8" fill="#dc5a5a"/>
<rect x="100" y="571" width="2" height="9" fill="#3ecf3e"/>
<rect x="103" y="572" width="2" height="8" fill="#dc5a5a"/>
<rect x="106" y="567" width="2" height="13" fill="#3ecf3e"/>
<rect x="109" y="564" width="2" height="16" fill="#dc5a5a"/>
<rect x="112" y="569" width="2" height="11" fill="#3ecf3e"/>
<rect x="115" y="567" width="2" height="13" fill="#3ecf3e"/>
<rect x="118" y="568" width="2" height="12" fill="#3ecf3e"/>
<rect x="121" y="571" width="2" height="9" fill="#dc5a5a"/>
<rect x="125" y="572" width="2" height="8" fill="#3ecf3e"/>
<rect x="128" y="575" width="2" height="5" fill="#3ecf3e"/>
<rect x="131" y="571" width="2" height="9" fill="#3ecf3e"/>
<rect x="134" y="573" width="2" height="7" fill="#dc5a5a"/>
<rect x="137" y="570" width="2" height="10" fill="#dc5a5a"/>
<rect x="140" y="568" width="2" height="12" fill="#dc5a5a"/>
<rect x="143" y="568" width="2" height="12" fill="#3ecf3e"/>
<rect x="146" y="569" width="2" height="11" fill="#3ecf3e"/>
<rect x="150" y="555" width="2" height="25" fill="#3ecf3e"/>
<rect x="153" y="548" width="2" height="32" fill="#3ecf3e"/>
<rect x="156" y="548" width="2" height="32" fill="#dc5a5a"/>
<rect x="159" y="550" width="2" height="30" fill="#3ecf3e"/>
<rect x="162" y="555" width="2" height="25" fill="#3ecf3e"/>
<rect x="165" y="558" width="2" height="22" fill="#dc5a5a"/>
<rect x="168" y="554" width="2" height="26" fill="#dc5a5a"/>
<rect x="171" y="550" width="2" height="30" fill="#3ecf3e"/>
<rect x="175" y="555" width="2" height="25" fill="#dc5a5a"/>
<rect x="178" y="556" width="2" height="24" fill="#3ecf3e"/>
<rect x="181" y="561" width="2" height="19" fill="#dc5a5a"/>
<rect x="184" y="571" width="2" height="9" fill="#3ecf3e"/>
<rect x="187" y="563" width="2" height="17" fill="#3ecf3e"/>
<rect x="190" y="578" width="2" height="2" fill="#dc5a5a"/>
<rect x="193" y="574" width="2" height="6" fill="#3ecf3e"/>
<rect x="196" y="572" width="2" height="8" fill="#dc5a5a"/>
<rect x="200" y="578" width="2" height="2" fill="#3ecf3e"/>
<rect x="203" y="570" width="2" height="10" fill="#dc5a5a"/>
<rect x="206" y="568" width="2" height="12" fill="#dc5a5a"/>
<rect x="209" y="560" width="2" height="20" fill="#dc5a5a"/>
<rect x="212" y="559" width="2" height="21" fill="#3ecf3e"/>
<rect x="215" y="565" width="2" height="15" fill="#3ecf3e"/>
<rect x="218" y="567" width="2" height="13" fill="#dc5a5a"/>
<rect x="221" y="564" width="2" height="16" fill="#3ecf3e"/>
<rect x="225" y="566" width="2" height="14" fill="#dc5a5a"/>
<rect x="228" y="558" width="2" height="22" fill="#dc5a5a"/>
<rect x="231" y="564" width="2" height="16" fill="#3ecf3e"/>
<rect x="234" y="565" width="2" height="15" fill="#dc5a5a"/>
<rect x="237" y="572" width="2" height="8" fill="#3ecf3e"/>
<rect x="240" y="568" width="2" height="12" fill="#3ecf3e"/>
<rect x="243" y="554" width="2" height="26" fill="#3ecf3e"/>
<rect x="246" y="567" width="2" height="13" fill="#dc5a5a"/>
<rect x="250" y="566" width="2" height="14" fill="#dc5a5a"/>
<rect x="253" y="569" width="2" height="11" fill="#dc5a5a"/>
<rect x="256" y="566" width="2" height="14" fill="#dc5a5a"/>
<rect x="259" y="563" width="2" height="17" fill="#3ecf3e"/>
<rect x="262" y="567" width="2" height="13" fill="#3ecf3e"/>
<rect x="265" y="569" width="2" height="11" fill="#dc5a5a"/>
<rect x="268" y="569" width="2" height="11" fill="#dc5a5a"/>
<rect x="271" y="562" width="2" height="18" fill="#dc5a5a"/>
<rect x="275" y="563" width="2" height="17" fill="#3ecf3e"/>
<rect x="278" y="556" width="2" height="24" fill="#3ecf3e"/>
<rect x="281" y="570" width="2" height="10" fill="#dc5a5a"/>
<rect x="284" y="567" width="2" height="13" fill="#dc5a5a"/>
<rect x="287" y="563" width="2" height="17" fill="#3ecf3e"/>
<rect x="290" y="558" width="2" height="22" fill="#3ecf3e"/>
<rect x="293" y="556" width="2" height="24" fill="#dc5a5a"/>
<rect x="296" y="561" width="2" height="19" fill="#dc5a5a"/>
<rect x="300" y="571" width="2" height="9" fill="#dc5a5a"/>
<rect x="303" y="568" width="2" height="12" fill="#3ecf3e"/>
<rect x="306" y="564" width="2" height="16" fill="#3ecf3e"/>
<rect x="309" y="568" width="2" height="12" fill="#3ecf3e"/>
<rect x="312" y="563" width="2" height="17" fill="#3ecf3e"/>
<rect x="315" y="566" width="2" height="14" fill="#3ecf3e"/>
<rect x="318" y="550" width="2" height="30" fill="#3ecf3e"/>
<rect x="321" y="565" width="2" height="15" fill="#3ecf3e"/>
<rect x="325" y="568" width="2" height="12" fill="#3ecf3e"/>
<rect x="328" y="570" width="2" height="10" fill="#dc5a5a"/>
<rect x="331" y="566" width="2" height="14" fill="#3ecf3e"/>
<rect x="334" y="570" width="2" height="10" fill="#dc5a5a"/>
<rect x="337" y="567" width="2" height="13" fill="#3ecf3e"/>
<rect x="340" y="570" width="2" height="10" fill="#3ecf3e"/>
<rect x="343" y="564" width="2" height="16" fill="#dc5a5a"/>
<rect x="346" y="571" width="2" height="9" fill="#dc5a5a"/>
<rect x="350" y="560" width="2" height="20" fill="#dc5a5a"/>
<rect x="353" y="567" width="2" height="13" fill="#3ecf3e"/>
<rect x="356" y="569" width="2" height="11" fill="#dc5a5a"/>
<rect x="359" y="571" width="2" height="9" fill="#3ecf3e"/>
<rect x="362" y="571" width="2" height="9" fill="#3ecf3e"/>
<rect x="365" y="561" width="2" height="19" fill="#dc5a5a"/>
<rect x="368" y="570" width="2" height="10" fill="#3ecf3e"/>
<rect x="372" y="568" width="2" height="12" fill="#3ecf3e"/>
<rect x="375" y="565" width="2" height="15" fill="#3ecf3e"/>
<rect x="378" y="562" width="2" height="18" fill="#3ecf3e"/>
<rect x="381" y="562" width="2" height="18" fill="#dc5a5a"/>
<rect x="384" y="556" width="2" height="24" fill="#dc5a5a"/>
<rect x="387" y="543" width="2" height="37" fill="#dc5a5a"/>
<rect x="390" y="562" width="2" height="18" fill="#dc5a5a"/>
<rect x="393" y="559" width="2" height="21" fill="#3ecf3e"/>
<rect x="397" y="556" width="2" height="24" fill="#dc5a5a"/>
<rect x="400" y="562" width="2" height="18" fill="#dc5a5a"/>
<rect x="403" y="569" width="2" height="11" fill="#3ecf3e"/>
<rect x="406" y="568" width="2" height="12" fill="#3ecf3e"/>
<rect x="409" y="555" width="2" height="25" fill="#3ecf3e"/>
<rect x="412" y="563" width="2" height="17" fill="#3ecf3e"/>
<rect x="415" y="564" width="2" height="16" fill="#3ecf3e"/>
<rect x="418" y="570" width="2" height="10" fill="#dc5a5a"/>
<rect x="422" y="561" width="2" height="19" fill="#3ecf3e"/>
<rect x="425" y="567" width="2" height="13" fill="#dc5a5a"/>
<rect x="428" y="564" width="2" height="16" fill="#dc5a5a"/>
<rect x="431" y="565" width="2" height="15" fill="#dc5a5a"/>
<rect x="434" y="566" width="2" height="14" fill="#3ecf3e"/>
<rect x="437" y="554" width="2" height="26" fill="#3ecf3e"/>
<rect x="440" y="558" width="2" height="22" fill="#3ecf3e"/>
<rect x="443" y="561" width="2" height="19" fill="#dc5a5a"/>
<rect x="447" y="566" width="2" height="14" fill="#dc5a5a"/>
<rect x="450" y="563" width="2" height="17" fill="#3ecf3e"/>
<rect x="453" y="560" width="2" height="20" fill="#dc5a5a"/>
<rect x="456" y="562" width="2" height="18" fill="#dc5a5a"/>
<rect x="459" y="558" width="2" height="22" fill="#dc5a5a"/>
<rect x="462" y="571" width="2" height="9" fill="#3ecf3e"/>
<rect x="465" y="553" width="2" height="27" fill="#dc5a5a"/>
<rect x="468" y="562" width="2" height="18" fill="#3ecf3e"/>
<rect x="472" y="561" width="2" height="19" fill="#3ecf3e"/>
<rect x="475" y="561" width="2" height="19" fill="#3ecf3e"/>
<rect x="478" y="561" width="2" height="19" fill="#dc5a5a"/>
<rect x="481" y="546" width="2" height="34" fill="#dc5a5a"/>
<rect x="484" y="546" width="2" height="34" fill="#3ecf3e"/>
<rect x="487" y="552" width="2" height="28" fill="#dc5a5a"/>
<rect x="490" y="548" width="2" height="32" fill="#3ecf3e"/>
<rect x="493" y="561" width="2" height="19" fill="#3ecf3e"/>
<rect x="497" y="561" width="2" height="19" fill="#3ecf3e"/>
<rect x="500" y="564" width="2" height="16" fill="#dc5a5a"/>
<rect x="503" y="563" width="2" height="17" fill="#dc5a5a"/>
<rect x="506" y="552" width="2" height="28" fill="#3ecf3e"/>
<rect x="509" y="560" width="2" height="20" fill="#dc5a5a"/>
<rect x="512" y="555" width="2" height="25" fill="#3ecf3e"/>
<rect x="515" y="551" width="2" height="29" fill="#3ecf3e"/>
<rect x="518" y="557" width="2" height="23" fill="#dc5a5a"/>
<rect x="522" y="561" width="2" height="19" fill="#3ecf3e"/>
<rect x="525" y="557" width="2" height="23" fill="#dc5a5a"/>
<rect x="528" y="560" width="2" height="20" fill="#3ecf3e"/>
<rect x="531" y="556" width="2" height="24" fill="#dc5a5a"/>
<rect x="534" y="560" width="2" height="20" fill="#dc5a5a"/>
<rect x="537" y="563" width="2" height="17" fill="#dc5a5a"/>
<rect x="540" y="560" width="2" height="20" fill="#dc5a5a"/>
<rect x="543" y="552" width="2" height="28" fill="#3ecf3e"/>
<rect x="547" y="563" width="2" height="17" fill="#3ecf3e"/>
<rect x="550" y="556" width="2" height="24" fill="#dc5a5a"/>
<rect x="553" y="560" width="2" height="20" fill="#dc5a5a"/>
<rect x="556" y="544" width="2" height="36" fill="#dc5a5a"/>
<rect x="559" y="557" width="2" height="23" fill="#3ecf3e"/>
<rect x="562" y="552" width="2" height="28" fill="#dc5a5a"/>
<rect x="565" y="542" width="2" height="38" fill="#3ecf3e"/>
<rect x="568" y="557" width="2" height="23" fill="#3ecf3e"/>
<rect x="572" y="564" width="2" height="16" fill="#3ecf3e"/>
<rect x="575" y="560" width="2" height="20" fill="#dc5a5a"/>
<rect x="578" y="554" width="2" height="26" fill="#3ecf3e"/>
<rect x="581" y="550" width="2" height="30" fill="#dc5a5a"/>
<rect x="584" y="546" width="2" height="34" fill="#dc5a5a"/>
<rect x="587" y="541" width="2" height="39" fill="#dc5a5a"/>
<rect x="590" y="551" width="2" height="29" fill="#3ecf3e"/>
<rect x="593" y="550" width="2" height="30" fill="#dc5a5a"/>
<rect x="597" y="567" width="2" height="13" fill="#dc5a5a"/>
<rect x="600" y="563" width="2" height="17" fill="#dc5a5a"/>
<rect x="603" y="543" width="2" height="37" fill="#3ecf3e"/>
<rect x="606" y="542" width="2" height="38" fill="#dc5a5a"/>
<rect x="609" y="549" width="2" height="31" fill="#3ecf3e"/>
<rect x="612" y="534" width="2" height="46" fill="#dc5a5a"/>
<rect x="615" y="544" width="2" height="36" fill="#3ecf3e"/>
<rect x="619" y="555" width="2" height="25" fill="#dc5a5a"/>
<rect x="622" y="552" width="2" height="28" fill="#3ecf3e"/>
<rect x="625" y="548" width="2" height="32" fill="#dc5a5a"/>
<rect x="628" y="559" width="2" height="21" fill="#3ecf3e"/>
<rect x="631" y="558" width="2" height="22" fill="#3ecf3e"/>
<rect x="634" y="535" width="2" height="45" fill="#3ecf3e"/>
<rect x="637" y="471" width="2" height="109" fill="#dc5a5a"/>
<rect x="640" y="521" width="2" height="59" fill="#3ecf3e"/>
<rect x="644" y="539" width="2" height="41" fill="#dc5a5a"/>
<rect x="647" y="543" width="2" height="37" fill="#dc5a5a"/>
<rect x="650" y="532" width="2" height="48" fill="#dc5a5a"/>
<rect x="653" y="547" width="2" height="33" fill="#3ecf3e"/>
<rect x="656" y="547" width="2" height="33" fill="#3ecf3e"/>
<rect x="659" y="547" width="2" height="33" fill="#dc5a5a"/>
<rect x="662" y="553" width="2" height="27" fill="#dc5a5a"/>
<rect x="665" y="528" width="2" height="52" fill="#dc5a5a"/>
<rect x="669" y="528" width="2" height="52" fill="#3ecf3e"/>
<rect x="672" y="542" width="2" height="38" fill="#dc5a5a"/>
<rect x="675" y="559" width="2" height="21" fill="#3ecf3e"/>
<rect x="678" y="550" width="2" height="30" fill="#dc5a5a"/>
<rect x="681" y="537" width="2" height="43" fill="#3ecf3e"/>
<rect x="684" y="532" width="2" height="48" fill="#dc5a5a"/>
<rect x="687" y="529" width="2" height="51" fill="#3ecf3e"/>
<rect x="690" y="517" width="2" height="63" fill="#dc5a5a"/>
<rect x="694" y="550" width="2" height="30" fill="#3ecf3e"/>
<rect x="697" y="547" width="2" height="33" fill="#dc5a5a"/>
<rect x="700" y="550" width="2" height="30" fill="#dc5a5a"/>
<rect x="703" y="534" width="2" height="46" fill="#3ecf3e"/>
<rect x="706" y="535" width="2" height="45" fill="#dc5a5a"/>
<rect x="709" y="507" width="2" height="73" fill="#dc5a5a"/>
<rect x="712" y="501" width="2" height="79" fill="#3ecf3e"/>
<rect x="715" y="499" width="2" height="81" fill="#dc5a5a"/>
<rect x="719" y="517" width="2" height="63" fill="#3ecf3e"/>
<rect x="722" y="535" width="2" height="45" fill="#3ecf3e"/>
<rect x="725" y="553" width="2" height="27" fill="#dc5a5a"/>
</g>
<g clip-path="url(#cv)" fill="none" stroke-width="1.1" stroke-dasharray="4.5 3.5">
<path d="M0.0,560.0 L12.0,560.0 L25.0,557.5 L31.0,556.2 L40.0,556.0 L47.0,555.0 L56.0,554.4 L69.0,554.4 L78.0,555.0 L87.0,558.0 L96.0,561.0 L103.0,562.5 L110.0,563.5 L118.0,566.2 L126.0,568.0 L135.0,570.0 L142.0,570.2 L149.0,569.8 L157.0,567.5 L164.0,565.2 L172.0,563.5 L180.0,562.2 L187.0,561.5 L195.0,561.2 L204.0,562.2 L212.0,561.2 L220.0,563.5 L227.0,564.4 L235.0,566.0 L242.0,567.0 L250.0,566.9 L258.0,566.2 L266.0,565.4 L274.0,565.4 L282.0,565.4 L290.0,565.4 L298.0,564.4 L306.0,565.0 L314.0,565.2 L322.0,564.4 L330.0,564.4 L338.0,564.4 L345.0,565.2 L353.0,565.6 L361.0,566.2 L369.0,566.2 L377.0,566.2 L385.0,566.9 L393.0,564.8 L400.0,563.8 L408.0,563.8 L416.0,563.0 L424.0,562.2 L432.0,562.2 L440.0,561.5 L448.0,562.2 L455.0,563.0 L463.0,563.0 L471.0,562.5 L479.0,561.9 L486.0,560.0 L495.0,558.8 L503.0,559.4 L511.0,558.5 L519.0,557.2 L526.0,557.2 L534.0,557.2 L542.0,557.2 L550.0,558.0 L558.0,558.5 L565.0,556.5 L573.0,556.2 L582.0,557.2 L590.0,555.0 L597.0,554.4 L605.0,554.4 L613.0,551.9 L621.0,551.2 L628.0,551.2 L635.0,550.6 L641.0,545.0 L652.0,543.0 L657.0,543.1 L664.0,541.2 L672.0,539.4 L680.0,541.2 L688.0,538.0 L695.0,535.2 L701.0,539.4 L707.0,540.0 L714.0,537.0 L722.0,533.5 L726.5,533.0" stroke="#d8566a"/>
</g>
<g fill="#8c9ca6">
<rect x="742" y="21" width="1" height="442"/>
<rect x="1" y="462" width="742" height="1"/>
<rect x="1" y="465" width="742" height="1"/>
<rect x="742" y="465" width="1" height="116"/>
<rect x="1" y="580" width="742" height="1"/>
<rect x="743" y="452" width="2" height="1"/>
<rect x="743" y="441" width="4" height="1"/>
<rect x="743" y="429" width="2" height="1"/>
<rect x="743" y="418" width="4" height="1"/>
<rect x="743" y="407" width="2" height="1"/>
<rect x="743" y="396" width="4" height="1"/>
<rect x="743" y="385" width="2" height="1"/>
<rect x="743" y="374" width="4" height="1"/>
<rect x="743" y="364" width="2" height="1"/>
<rect x="743" y="353" width="4" height="1"/>
<rect x="743" y="343" width="2" height="1"/>
<rect x="743" y="333" width="4" height="1"/>
<rect x="743" y="323" width="2" height="1"/>
<rect x="743" y="313" width="4" height="1"/>
<rect x="743" y="303" width="2" height="1"/>
<rect x="743" y="293" width="4" height="1"/>
<rect x="743" y="283" width="2" height="1"/>
<rect x="743" y="274" width="4" height="1"/>
<rect x="743" y="264" width="2" height="1"/>
<rect x="743" y="255" width="4" height="1"/>
<rect x="743" y="246" width="2" height="1"/>
<rect x="743" y="236" width="4" height="1"/>
<rect x="743" y="227" width="2" height="1"/>
<rect x="743" y="218" width="4" height="1"/>
<rect x="743" y="209" width="2" height="1"/>
<rect x="743" y="201" width="4" height="1"/>
<rect x="743" y="192" width="2" height="1"/>
<rect x="743" y="183" width="4" height="1"/>
<rect x="743" y="175" width="2" height="1"/>
<rect x="743" y="166" width="4" height="1"/>
<rect x="743" y="158" width="2" height="1"/>
<rect x="743" y="149" width="4" height="1"/>
<rect x="743" y="141" width="2" height="1"/>
<rect x="743" y="133" width="4" height="1"/>
<rect x="743" y="125" width="2" height="1"/>
<rect x="743" y="117" width="4" height="1"/>
<rect x="743" y="109" width="2" height="1"/>
<rect x="743" y="101" width="4" height="1"/>
<rect x="743" y="93" width="2" height="1"/>
<rect x="743" y="85" width="4" height="1"/>
<rect x="743" y="78" width="2" height="1"/>
<rect x="743" y="70" width="4" height="1"/>
<rect x="743" y="63" width="2" height="1"/>
<rect x="743" y="55" width="4" height="1"/>
<rect x="743" y="48" width="2" height="1"/>
<rect x="743" y="40" width="4" height="1"/>
<rect x="743" y="33" width="2" height="1"/>
<rect x="743" y="26" width="4" height="1"/>
<rect x="743" y="560" width="4" height="1"/>
<rect x="743" y="541" width="4" height="1"/>
<rect x="743" y="521" width="4" height="1"/>
<rect x="743" y="502" width="4" height="1"/>
<rect x="743" y="482" width="4" height="1"/>
<rect x="75" y="581" width="1" height="4"/>
<rect x="138" y="581" width="1" height="4"/>
<rect x="204" y="581" width="1" height="4"/>
<rect x="269" y="581" width="1" height="4"/>
<rect x="332" y="581" width="1" height="4"/>
<rect x="401" y="581" width="1" height="4"/>
<rect x="463" y="581" width="1" height="4"/>
<rect x="523" y="581" width="1" height="4"/>
<rect x="591" y="581" width="1" height="4"/>
<rect x="663" y="581" width="1" height="4"/>
<rect x="726" y="581" width="1" height="4"/>
</g>
<rect x="0" y="0" width="800" height="1" fill="#9ba8b1"/>
<rect x="0" y="0" width="1" height="600" fill="#9ba8b1"/>
<rect x="798" y="1" width="1" height="598" fill="#ffffff"/>
<rect x="1" y="598" width="798" height="1" fill="#ffffff"/>
<rect x="799" y="0" width="1" height="600" fill="#8c9ca6"/>
<rect x="0" y="599" width="800" height="1" fill="#8c9ca6"/>
<rect x="1" y="21" width="29" height="14" fill="url(#tb)"/>
<rect x="1" y="21" width="29" height="1" fill="#eef3f6"/>
<rect x="1" y="21" width="1" height="14" fill="#eef3f6"/>
<rect x="29" y="21" width="1" height="14" fill="#a3b1bb"/>
<rect x="1" y="34" width="29" height="1" fill="#a9b6bf"/>
<rect x="30" y="21" width="145" height="14" fill="url(#tb)"/>
<rect x="30" y="21" width="145" height="1" fill="#eef3f6"/>
<rect x="30" y="21" width="1" height="14" fill="#eef3f6"/>
<rect x="174" y="21" width="1" height="14" fill="#a3b1bb"/>
<rect x="30" y="34" width="145" height="1" fill="#a9b6bf"/>
<rect x="175" y="21" width="145" height="14" fill="url(#tb)"/>
<rect x="175" y="21" width="145" height="1" fill="#eef3f6"/>
<rect x="175" y="21" width="1" height="14" fill="#eef3f6"/>
<rect x="319" y="21" width="1" height="14" fill="#a3b1bb"/>
<rect x="175" y="34" width="145" height="1" fill="#a9b6bf"/>
<rect x="320" y="21" width="139" height="14" fill="url(#tb)"/>
<rect x="320" y="21" width="139" height="1" fill="#eef3f6"/>
<rect x="320" y="21" width="1" height="14" fill="#eef3f6"/>
<rect x="458" y="21" width="1" height="14" fill="#a3b1bb"/>
<rect x="320" y="34" width="139" height="1" fill="#a9b6bf"/>
<rect x="1" y="466" width="40" height="14" fill="url(#tb)"/>
<rect x="1" y="466" width="40" height="1" fill="#eef3f6"/>
<rect x="1" y="466" width="1" height="14" fill="#eef3f6"/>
<rect x="40" y="466" width="1" height="14" fill="#a3b1bb"/>
<rect x="1" y="479" width="40" height="1" fill="#a9b6bf"/>
<rect x="41" y="466" width="140" height="14" fill="url(#tb)"/>
<rect x="41" y="466" width="140" height="1" fill="#eef3f6"/>
<rect x="41" y="466" width="1" height="14" fill="#eef3f6"/>
<rect x="180" y="466" width="1" height="14" fill="#a3b1bb"/>
<rect x="41" y="479" width="140" height="1" fill="#a9b6bf"/>
<text x="3.7" y="31.2" fill="#0a0a28" textLength="23.5" lengthAdjust="spacingAndGlyphs">Price</text>
<text x="33" y="31.2" fill="#0a0a28" textLength="139.5" lengthAdjust="spacingAndGlyphs">Moving average (Simple 100)</text>
<text x="177.5" y="31.2" fill="#0c9a0c" textLength="139.5" lengthAdjust="spacingAndGlyphs">Moving average (Simple 200)</text>
<text x="323" y="31.2" fill="#1530dd" textLength="133" lengthAdjust="spacingAndGlyphs">Moving average (Simple 50)</text>
<text x="3" y="475.8" fill="#e2606f" textLength="36" lengthAdjust="spacingAndGlyphs">Volume</text>
<text x="44.5" y="475.8" fill="#e2606f" textLength="133" lengthAdjust="spacingAndGlyphs">Moving average (Simple 20)</text>
<text x="2.5" y="459.7" fill="#000" textLength="85" lengthAdjust="spacingAndGlyphs">© IT-Finance.com</text>
<g shape-rendering="crispEdges"><rect x="6" y="8" width="1" height="11" fill="#c02626"/><rect x="3" y="10" width="7" height="7" fill="#c42a2a"/><rect x="4" y="11" width="5" height="5" fill="url(#rc)"/>
<rect x="14" y="3" width="1" height="16" fill="#109a10"/><rect x="11" y="6" width="7" height="10" fill="#12a012"/><rect x="12" y="7" width="5" height="8" fill="url(#gc)"/></g>
<text x="23.1" y="14.5" fill="#000" class="b" textLength="150" lengthAdjust="spacingAndGlyphs">ARM - ARM Holdings PLC (-)</text>
<text x="186" y="14.5" fill="#000" class="b" textLength="77.5" lengthAdjust="spacingAndGlyphs">909.50 (-2.15%)</text>
<text x="276.5" y="14.5" fill="#000" class="b" textLength="23.7" lengthAdjust="spacingAndGlyphs">Daily</text>
<text x="308" y="14.5" fill="#000" class="b" textLength="91" lengthAdjust="spacingAndGlyphs">Sep 01 2015 12:31</text>
<text x="714.5" y="14.5" fill="#000" class="b" textLength="82.5" lengthAdjust="spacingAndGlyphs">IT-Finance.com</text>
<text x="749" y="444.8" fill="#050518" style="font-size:10.7px">780</text>
<text x="749" y="421.8" fill="#000" class="b" style="font-size:12.6px">800</text>
<text x="749" y="400.0" fill="#050518" style="font-size:10.7px">820</text>
<text x="749" y="378.5" fill="#050518" style="font-size:10.7px">840</text>
<text x="749" y="357.4" fill="#050518" style="font-size:10.7px">860</text>
<text x="749" y="336.8" fill="#050518" style="font-size:10.7px">880</text>
<text x="749" y="316.4" fill="#000" class="b" style="font-size:12.6px">900</text>
<text x="749" y="297.1" fill="#050518" style="font-size:10.7px">920</text>
<text x="749" y="277.8" fill="#050518" style="font-size:10.7px">940</text>
<text x="749" y="259.0" fill="#050518" style="font-size:10.7px">960</text>
<text x="749" y="240.5" fill="#050518" style="font-size:10.7px">980</text>
<text x="749" y="222.2" fill="#000" class="b" style="font-size:12.6px">1,000</text>
<text x="749" y="204.7" fill="#050518" style="font-size:10.7px">1,020</text>
<text x="749" y="187.4" fill="#050518" style="font-size:10.7px">1,040</text>
<text x="749" y="170.3" fill="#050518" style="font-size:10.7px">1,060</text>
<text x="749" y="153.6" fill="#050518" style="font-size:10.7px">1,080</text>
<text x="749" y="136.9" fill="#000" class="b" style="font-size:12.6px">1,100</text>
<text x="749" y="121.1" fill="#050518" style="font-size:10.7px">1,120</text>
<text x="749" y="105.2" fill="#050518" style="font-size:10.7px">1,140</text>
<text x="749" y="89.7" fill="#050518" style="font-size:10.7px">1,160</text>
<text x="749" y="74.4" fill="#050518" style="font-size:10.7px">1,180</text>
<text x="749" y="59.0" fill="#000" class="b" style="font-size:12.6px">1,200</text>
<text x="749" y="44.5" fill="#050518" style="font-size:10.7px">1,220</text>
<text x="749" y="486.2" fill="#050518" style="font-size:10.7px">25M</text>
<text x="749" y="505.8" fill="#050518" style="font-size:10.7px">20M</text>
<text x="749" y="525.4" fill="#050518" style="font-size:10.7px">15M</text>
<text x="749" y="545.0" fill="#050518" style="font-size:10.7px">10M</text>
<text x="749" y="564.6" fill="#050518" style="font-size:10.7px">5,000K</text>
<text x="75.5" y="595.7" fill="#0a0a20" style="font-size:10.3px" text-anchor="middle">Nov</text>
<text x="138.5" y="595.7" fill="#0a0a20" style="font-size:10.3px" text-anchor="middle">Dec</text>
<text x="204.5" y="596" fill="#000" class="b" style="font-size:12px" text-anchor="middle">2015</text>
<text x="269.5" y="595.7" fill="#0a0a20" style="font-size:10.3px" text-anchor="middle">Feb</text>
<text x="332.5" y="595.7" fill="#0a0a20" style="font-size:10.3px" text-anchor="middle">Mar</text>
<text x="401.5" y="595.7" fill="#0a0a20" style="font-size:10.3px" text-anchor="middle">Apr</text>
<text x="463.5" y="595.7" fill="#0a0a20" style="font-size:10.3px" text-anchor="middle">May</text>
<text x="523.5" y="595.7" fill="#0a0a20" style="font-size:10.3px" text-anchor="middle">Jun</text>
<text x="591.5" y="595.7" fill="#0a0a20" style="font-size:10.3px" text-anchor="middle">Jul</text>
<text x="663.5" y="595.7" fill="#0a0a20" style="font-size:10.3px" text-anchor="middle">Aug</text>
<text x="726.5" y="595.7" fill="#0a0a20" style="font-size:10.3px" text-anchor="middle">Sep</text>
<rect x="747.5" y="157.5" width="38" height="15" fill="url(#wb)" stroke="#8e9ca6" stroke-width="1"/>
<text x="749.5" y="169.1" fill="#10102a" textLength="34.5" lengthAdjust="spacingAndGlyphs">1,060.9</text>
<rect x="747.5" y="165.5" width="38" height="15" fill="url(#wb)" stroke="#8e9ca6" stroke-width="1"/>
<text x="749.5" y="177.1" fill="#0c9a0c" textLength="34.5" lengthAdjust="spacingAndGlyphs">1,051.3</text>
<rect x="747.5" y="222.5" width="35" height="15" fill="url(#wb)" stroke="#8e9ca6" stroke-width="1"/>
<text x="749.5" y="234.1" fill="#1530dd" textLength="32" lengthAdjust="spacingAndGlyphs">986.75</text>
<rect x="747.5" y="295.5" width="35" height="15" fill="url(#yl)" stroke="#8e9ca6" stroke-width="1"/>
<text x="749.5" y="307.1" fill="#000" textLength="32" lengthAdjust="spacingAndGlyphs">909.50</text>
<rect x="747.5" y="524.5" width="31" height="15" fill="url(#wb)" stroke="#8e9ca6" stroke-width="1"/>
<text x="749.5" y="536.1" fill="#e2606f" textLength="27.5" lengthAdjust="spacingAndGlyphs">12.1M</text>
<rect x="747.5" y="545.5" width="36" height="15" fill="url(#wb)" stroke="#8e9ca6" stroke-width="1"/>
<text x="749.5" y="557.1" fill="#e2606f" textLength="33" lengthAdjust="spacingAndGlyphs">6,869K</text>
</svg></body></html>
